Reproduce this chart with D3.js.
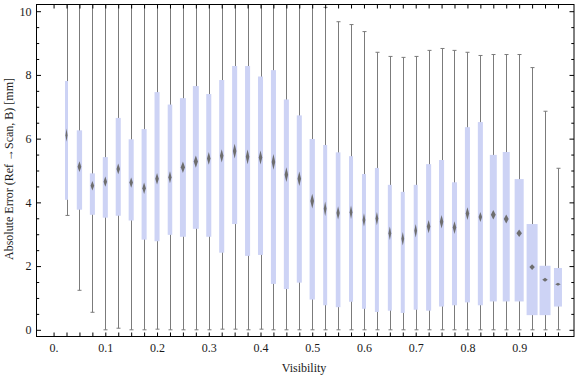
<!DOCTYPE html>
<html>
  <head>
    <meta charset="utf-8">
    <script src="https://d3js.org/d3.v7.min.js"></script>
    <title>Absolute Error vs Visibility</title>
    <style>
      body {
        margin: 0px;
        background: #fff;
      }
      .domain {
        display: none;
      }
      .tick line {
        stroke: #000;
      }
      .tick text {
        fill: #1a1a1a;
        font-size: 12px;
        font-family: 'Liberation Serif', 'Times New Roman', serif;
      }
      .axis-label {
        fill: #1a1a1a;
        font-size: 12px;
        font-family: 'Liberation Serif', 'Times New Roman', serif;
      }
    </style>
  </head>
  <body>
    <svg width="576" height="377"></svg>
    <script>

      // bin centres (visibility)
      const visibility = [0.025, 0.05, 0.075, 0.1, 0.125, 0.15, 0.175, 0.2, 0.225, 0.25,
        0.275, 0.3, 0.325, 0.35, 0.375, 0.4, 0.425, 0.45, 0.475, 0.5,
        0.525, 0.55, 0.575, 0.6, 0.625, 0.65, 0.675, 0.7, 0.725, 0.75,
        0.775, 0.8, 0.825, 0.85, 0.875, 0.9, 0.925, 0.95, 0.975];
      const whiskerLow = [3.59, 1.24, 0.55, 0, 0.05, 0, 0, 0.02, 0, 0,
        0, 0, 0.02, 0.02, 0, 0.02, 0, 0, 0, 0,
        0, 0, 0, 0, 0, 0, 0, 0, 0, 0,
        0, 0, 0, 0, 0, 0, 0, 0, 0];
      const q1 = [4.08, 3.77, 3.61, 3.52, 3.58, 3.43, 2.83, 2.78, 2.98, 2.92,
        3.17, 2.92, 2.42, 3.32, 2.32, 2.35, 1.44, 1.28, 1.48, 0.95,
        0.77, 0.71, 0.88, 0.66, 0.56, 0.60, 0.53, 0.63, 0.60, 0.73,
        0.77, 0.86, 0.77, 0.89, 0.89, 0.89, 0.46, 0.46, 0.73];
      const median = [6.11, 5.12, 4.52, 4.65, 5.05, 4.62, 4.44, 4.74, 4.79, 5.10,
        5.28, 5.38, 5.46, 5.61, 5.43, 5.41, 5.27, 4.87, 4.74, 4.04,
        3.80, 3.67, 3.69, 3.45, 3.49, 3.03, 2.86, 3.11, 3.24, 3.39,
        3.21, 3.65, 3.54, 3.61, 3.48, 3.03, 1.97, 1.57, 1.43];
      const q3 = [7.81, 6.26, 4.91, 5.42, 6.65, 5.98, 6.30, 7.46, 7.07, 7.27,
        7.65, 7.40, 7.84, 8.28, 8.28, 7.95, 8.15, 7.23, 6.73, 5.99,
        5.80, 5.57, 5.45, 4.89, 5.08, 4.55, 4.33, 4.55, 5.20, 5.33,
        4.63, 6.36, 6.52, 5.49, 5.58, 4.73, 3.32, 2.01, 1.94];
      const whiskerHigh = [12.4, 12.1, 11.8, 12.0, 12.3, 11.9, 12.2, 12.5, 12.0, 12.1,
        12.3, 12.0, 12.4, 12.6, 12.2, 12.1, 12.3, 11.7, 11.2, 10.6,
        10.12, 9.67, 9.58, 9.36, 8.71, 8.58, 8.55, 8.58, 8.77, 8.83,
        8.77, 8.71, 8.61, 8.64, 8.64, 8.64, 8.23, 6.86, 5.07];
      // relative box width (share of the bin)
      const boxShare = [0.23, 0.41, 0.39, 0.39, 0.39, 0.39, 0.39, 0.39, 0.35, 0.46,
        0.46, 0.39, 0.39, 0.39, 0.39, 0.39, 0.39, 0.39, 0.39, 0.41,
        0.31, 0.36, 0.31, 0.31, 0.31, 0.31, 0.31, 0.31, 0.39, 0.39,
        0.39, 0.39, 0.39, 0.54, 0.54, 0.70, 0.85, 0.85, 0.62];
      // half-height of the median notch [mm]
      const notch = [0.21, 0.17, 0.15, 0.16, 0.17, 0.16, 0.18, 0.18, 0.19, 0.18,
        0.19, 0.20, 0.21, 0.23, 0.23, 0.22, 0.25, 0.23, 0.23, 0.23,
        0.23, 0.21, 0.21, 0.21, 0.21, 0.21, 0.21, 0.21, 0.21, 0.21,
        0.20, 0.20, 0.16, 0.15, 0.14, 0.12, 0.09, 0.06, 0.05];

      const xTicks = [0, ...visibility];
      const xLabelTicks = [0, 0.1, 0.2, 0.3, 0.4, 0.5, 0.6, 0.7, 0.8, 0.9];
      const yMajor = [0, 2, 4, 6, 8, 10];
      const yMinor = [0.5, 1, 1.5, 2.5, 3, 3.5, 4.5, 5, 5.5, 6.5, 7, 7.5, 8.5, 9, 9.5];

      const xLabel = 'Visibility';
      const yLabel = 'Absolute Error (Ref \u2192Scan, B) [mm]';

      const data = visibility.map((v, i) => ({
        v, lo: whiskerLow[i], q1: q1[i], med: median[i], q3: q3[i],
        hi: whiskerHigh[i], share: boxShare[i], notch: notch[i]
      }));

      const svg = d3.select('svg');
      const frame = { left: 36.5, right: 574, top: 4.5, bottom: 336.5 };

      const xScale = d3.scaleLinear().domain([-0.033, 1.006]).range([frame.left, frame.right]);
      const yScale = d3.scaleLinear().domain([-0.21, 10.21]).range([frame.bottom, frame.top]);
      const slot = xScale(0.025) - xScale(0);

      const defs = svg.append('defs');
      defs.append('clipPath').attr('id', 'clip')
        .append('rect')
          .attr('x', frame.left).attr('y', frame.top)
          .attr('width', frame.right - frame.left).attr('height', frame.bottom - frame.top);
      defs.append('filter').attr('id', 'soft')
          .attr('x', '-80%').attr('y', '-80%').attr('width', '260%').attr('height', '260%')
        .append('feGaussianBlur').attr('stdDeviation', 0.75);

      const plot = svg.append('g').attr('clip-path', 'url(#clip)');

      const px = d => Math.round(xScale(d.v)) + 0.5;

      // whiskers
      plot.selectAll('line.whisker').data(data)
        .enter().append('line')
          .attr('class', 'whisker')
          .attr('x1', px).attr('x2', px)
          .attr('y1', d => yScale(d.lo))
          .attr('y2', d => yScale(d.hi))
          .attr('stroke', '#7b7b7b')
          .attr('stroke-width', 1);

      ['lo', 'hi'].forEach(k => {
        plot.selectAll('line.cap-' + k).data(data)
          .enter().append('line')
            .attr('class', 'cap-' + k)
            .attr('x1', d => px(d) - 2).attr('x2', d => px(d) + 2)
            .attr('y1', d => yScale(d[k])).attr('y2', d => yScale(d[k]))
            .attr('stroke', '#7b7b7b')
            .attr('stroke-width', 1);
      });

      // boxes
      plot.selectAll('rect.box').data(data)
        .enter().append('rect')
          .attr('class', 'box')
          .attr('x', d => xScale(d.v) - d.share * slot / 2)
          .attr('width', d => d.share * slot)
          .attr('y', d => yScale(d.q3))
          .attr('height', d => yScale(d.q1) - yScale(d.q3))
          .attr('fill', '#cdd3f5');

      // median notch
      plot.selectAll('path.median').data(data)
        .enter().append('path')
          .attr('class', 'median')
          .attr('d', d => {
            const cx = xScale(d.v);
            const cy = yScale(d.med);
            const h = yScale(d.med - d.notch) - cy;
            const w = Math.min(d.share * slot * 0.7, 5.5) / 2;
            return `M${cx},${cy - h}L${cx + w},${cy}L${cx},${cy + h}L${cx - w},${cy}Z`;
          })
          .attr('fill', '#6e6e6e')
          .attr('filter', 'url(#soft)');

      // axes
      const xAxisB = d3.axisBottom(xScale).tickValues(xTicks).tickSize(-4).tickPadding(7)
        .tickFormat(d => xLabelTicks.some(t => Math.abs(t - d) < 1e-9)
          ? (d === 0 ? '0.' : d3.format('.1f')(d)) : '');
      const xAxisT = d3.axisTop(xScale).tickValues(xTicks).tickSize(-4).tickFormat('');

      svg.append('g').attr('transform', `translate(0,${frame.bottom})`).call(xAxisB);
      svg.append('g').attr('transform', `translate(0,${frame.top})`).call(xAxisT);

      svg.append('g').attr('transform', `translate(${frame.left},0)`)
        .call(d3.axisLeft(yScale).tickValues(yMajor).tickSize(-4.5).tickPadding(5));
      svg.append('g').attr('transform', `translate(${frame.left},0)`)
        .call(d3.axisLeft(yScale).tickValues(yMinor).tickSize(-2.7).tickFormat(''));
      svg.append('g').attr('transform', `translate(${frame.right},0)`)
        .call(d3.axisRight(yScale).tickValues(yMajor).tickSize(-4.5).tickFormat(''));
      svg.append('g').attr('transform', `translate(${frame.right},0)`)
        .call(d3.axisRight(yScale).tickValues(yMinor).tickSize(-2.7).tickFormat(''));

      // frame
      svg.append('rect')
          .attr('x', frame.left).attr('y', frame.top)
          .attr('width', frame.right - frame.left).attr('height', frame.bottom - frame.top)
          .attr('fill', 'none')
          .attr('stroke', '#000')
          .attr('stroke-width', 1);

      svg.append('text')
          .attr('class', 'axis-label')
          .attr('x', 304)
          .attr('y', 372)
          .attr('text-anchor', 'middle')
          .text(xLabel);

      svg.append('text')
          .attr('class', 'axis-label')
          .attr('transform', 'translate(13,169) rotate(-90)')
          .attr('text-anchor', 'middle')
          .text(yLabel);
    </script>
  </body>
</html>
